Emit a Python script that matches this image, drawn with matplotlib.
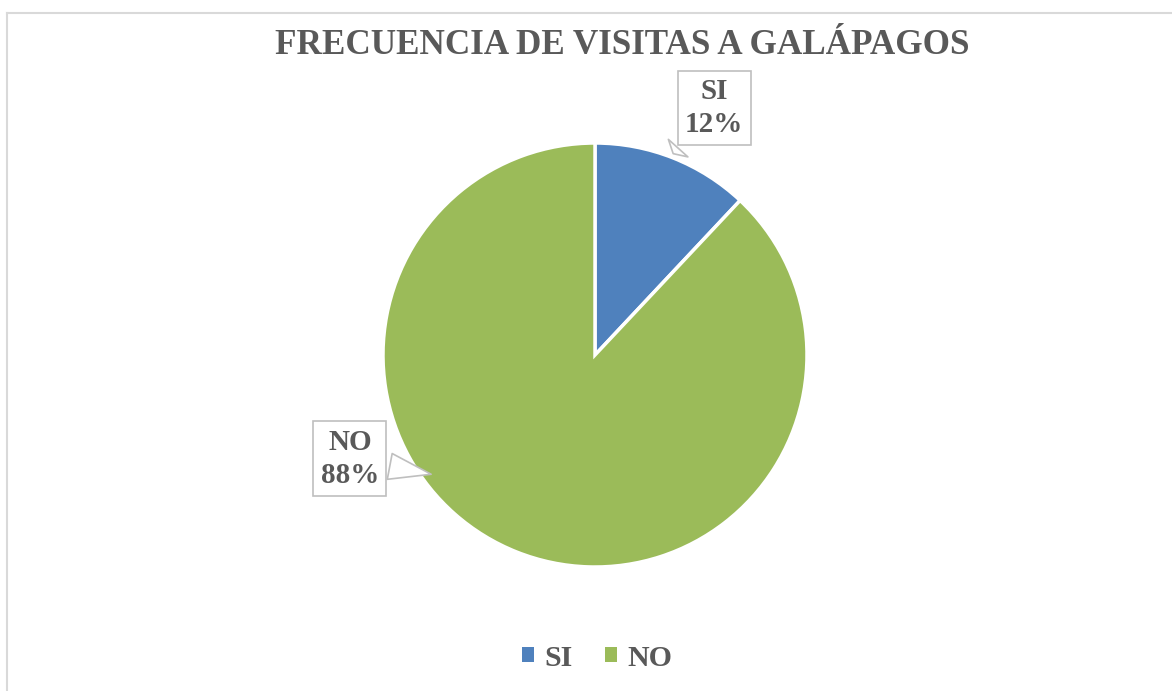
import matplotlib.pyplot as plt
from matplotlib.patches import Patch
from matplotlib.lines import Line2D

labels = ['SI', 'NO']
values = [12, 88]
colors = ['#4f81bd', '#9bbb59']
title = 'FRECUENCIA DE VISITAS A GALÁPAGOS'

W, H = 1172, 691
plt.rcParams['font.family'] = ['Liberation Serif', 'DejaVu Serif']
text_color = '#595959'

fig = plt.figure(figsize=(W / 100, H / 100), dpi=100)

# chart area border (only top and left visible)
fig.add_artist(Line2D([7 / W, 7 / W], [0, 1 - 12.5 / H], transform=fig.transFigure,
                      color='#d9d9d9', lw=1.5))
fig.add_artist(Line2D([7 / W, 1], [1 - 12.5 / H, 1 - 12.5 / H], transform=fig.transFigure,
                      color='#d9d9d9', lw=1.5))

cx, cy, r = 595, 355, 212
ax = fig.add_axes([(cx - r) / W, (H - cy - r) / H, 2 * r / W, 2 * r / H])
wedges, _ = ax.pie(values, colors=colors, startangle=90, counterclock=False,
                   radius=1, wedgeprops=dict(edgecolor='white', linewidth=2.5))
ax.set_xlim(-1, 1)
ax.set_ylim(-1, 1)
ax.set_aspect('equal')
ax.axis('off')

fig.text(622 / W, 1 - 45 / H, title, ha='center', va='center',
         fontsize=25.3, fontweight='bold', color=text_color)

# callout labels
box = dict(boxstyle='square,pad=0.25', fc='white', ec='#bfbfbf', lw=1.2)
arrow = dict(arrowstyle='wedge,tail_width=0.9,shrink_factor=0.5', fc='white',
             ec='#bfbfbf', lw=1.2, relpos=(0.5, 0.5))
label_pos = [(0.562, 1.165), (-1.156, -0.49)]
tip_pos = [(0.36, 0.94), (-0.76, -0.565)]
for lab, v, xy, txy in zip(labels, values, tip_pos, label_pos):
    ax.annotate(f'{lab}\n{v}%', xy=xy, xytext=txy, ha='center', va='center',
                fontsize=21, fontweight='bold', color=text_color,
                linespacing=1.3, bbox=box, arrowprops=arrow,
                annotation_clip=False, zorder=5)

handles = [Patch(facecolor=c, edgecolor='none') for c in colors]
fig.legend(handles, labels, loc='center', bbox_to_anchor=(597 / W, 1 - 658 / H),
           ncol=2, frameon=False, handlelength=0.4, handleheight=0.4,
           handletextpad=0.35, columnspacing=1.1,
           prop=dict(size=21.5, weight='bold'), labelcolor=text_color)

fig.savefig('out.png', dpi=100)
